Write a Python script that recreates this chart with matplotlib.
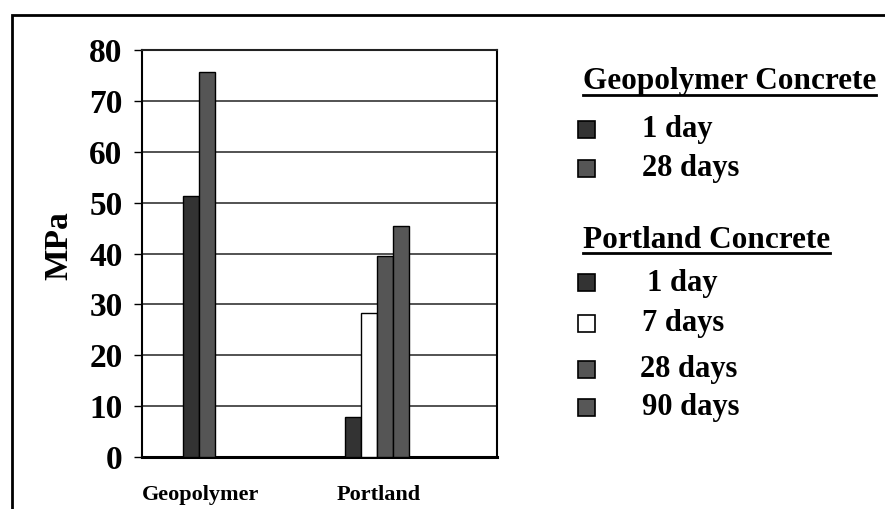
import matplotlib.pyplot as plt
from matplotlib.patches import Rectangle
from matplotlib.lines import Line2D

# values (MPa)
groups = ['Geopolymer', 'Portland']
geo_labels = ['1 day', '28 days']
geo_values = [51.3, 75.7]
geo_colors = ['#333333', '#555555']
port_labels = ['1 day', '7 days', '28 days', '90 days']
port_values = [7.9, 28.3, 39.5, 45.4]
port_colors = ['#333333', '#ffffff', '#555555', '#575757']
yticks = [0, 10, 20, 30, 40, 50, 60, 70, 80]

plt.rcParams['font.family'] = ['Liberation Serif', 'DejaVu Serif']
plt.rcParams['font.weight'] = 'bold'

fig = plt.figure(figsize=(8.85, 5.09), dpi=100)
ax = fig.add_axes([0.1605, 0.102, 0.401, 0.7998])

w = 0.09
for i, v in enumerate(geo_values):
    ax.bar(0 + (i - 0.5) * w, v, w, color=geo_colors[i], edgecolor='black', lw=1, zorder=3)
for i, v in enumerate(port_values):
    ax.bar(1 + (i - 1.5) * w, v, w, color=port_colors[i], edgecolor='black', lw=1, zorder=3)

ax.set_xlim(-0.32, 1.674)
ax.set_ylim(0, 80)
ax.set_yticks(yticks)
ax.set_yticklabels([str(t) for t in yticks], fontsize=24, fontweight='bold')
ax.set_xticks([0.01, 1.01])
ax.set_xticklabels(groups, fontsize=16, fontweight='bold')
ax.tick_params(axis='x', length=0, pad=20)
ax.tick_params(axis='y', direction='out', length=6, width=1, pad=8)
ax.yaxis.grid(True, color='#444444', lw=1.3, zorder=0)
for s in ['left', 'right', 'top']:
    ax.spines[s].set_linewidth(1.5)
ax.spines['top'].set_color('#222222')
ax.spines['bottom'].set_linewidth(2.2)
ax.set_ylabel('MPa', fontsize=24, fontweight='bold')
ax.yaxis.set_label_coords(-0.19, 0.52)

# outer frame (cropped on right and bottom)
fig.patches.append(Rectangle((12 / 885, -0.2), 1.2, 1.2 - 15 / 509,
                             transform=fig.transFigure, fill=False,
                             ec='black', lw=2))

# legend drawn by hand
def fy(py):
    return 1 - py / 509

def header(txt, px, py):
    t = fig.text(px / 885, fy(py), txt, fontsize=22.5, fontweight='bold',
                 va='center', ha='left')
    return t

def item(color, txt, py, tx):
    fig.patches.append(Rectangle((578 / 885, fy(py + 8)), 17 / 885, 17 / 509,
                                 transform=fig.transFigure, fc=color,
                                 ec='black', lw=1.2))
    fig.text(tx / 885, fy(py), txt, fontsize=22, fontweight='bold',
             va='center', ha='left')

h1 = header('Geopolymer Concrete', 583, 82)
item(geo_colors[0], geo_labels[0], 130, 642)
item(geo_colors[1], geo_labels[1], 169, 642)
h2 = header('Portland Concrete', 583, 240)
item(port_colors[0], port_labels[0], 283, 647)
item(port_colors[1], port_labels[1], 324, 642)
item(port_colors[2], port_labels[2], 370, 640)
item(port_colors[3], port_labels[3], 408, 642)

fig.canvas.draw()
r = fig.canvas.get_renderer()
for h, uy in [(h1, 95), (h2, 253)]:
    bb = h.get_window_extent(r)
    fig.lines.append(Line2D([bb.x0 / 885, bb.x1 / 885], [fy(uy), fy(uy)],
                            transform=fig.transFigure, color='black', lw=2))

fig.savefig('out.png', dpi=100)
